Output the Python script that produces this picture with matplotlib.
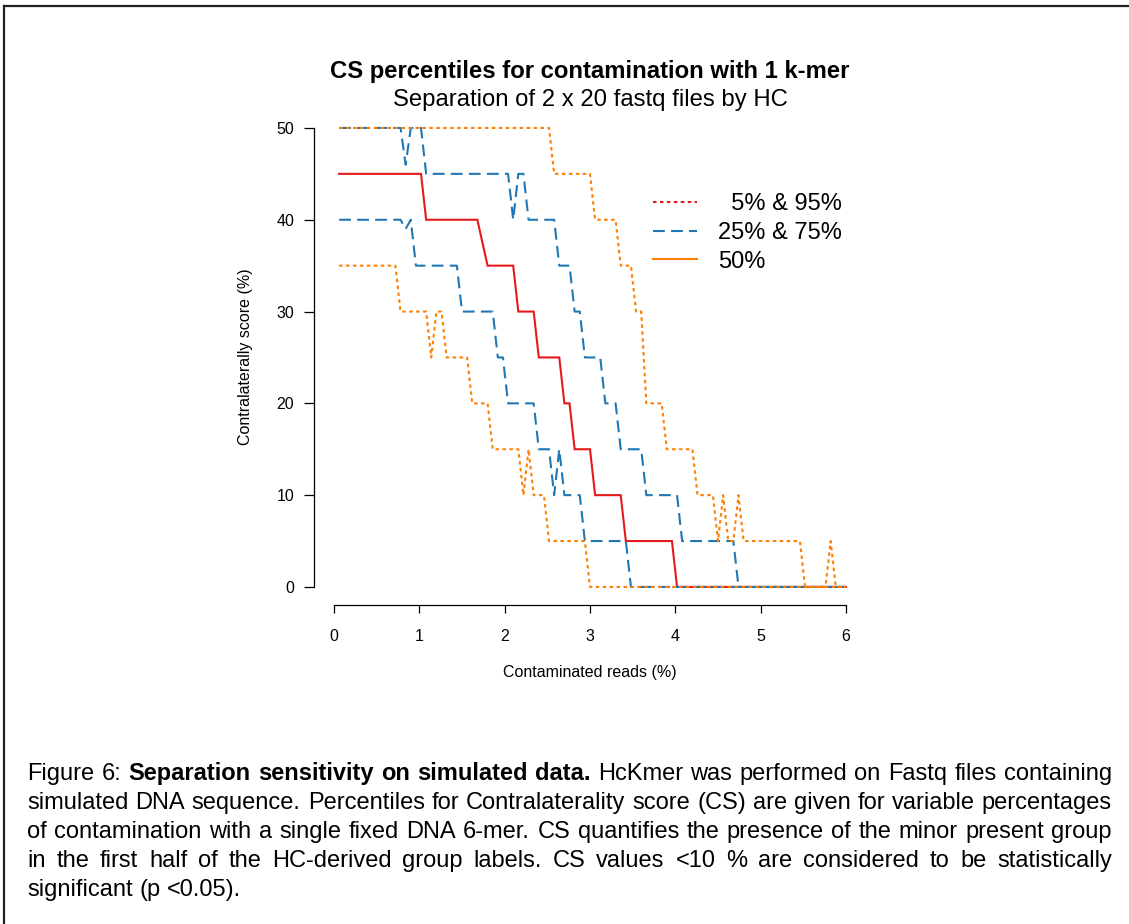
import numpy as np
import matplotlib
matplotlib.use("Agg")
import matplotlib.pyplot as plt
from matplotlib.lines import Line2D

plt.rcParams['font.family'] = ['Liberation Sans', 'DejaVu Sans']
plt.rcParams['lines.scale_dashes'] = False

# contaminated reads (%) and contralaterality score (%) at the step vertices
x50 = [0.06, 1.02, 1.08, 1.68, 1.80, 2.10, 2.16, 2.34, 2.40, 2.64, 2.70, 2.76, 2.82,
       3.00, 3.06, 3.36, 3.42, 3.96, 4.02, 6.00]
y50 = [45, 45, 40, 40, 35, 35, 30, 30, 25, 25, 20, 20, 15, 15, 10, 10, 5, 5, 0, 0]

x75 = [0.06, 0.78, 0.84, 0.90, 1.02, 1.08, 2.04, 2.10, 2.16, 2.22, 2.28, 2.58, 2.64,
       2.76, 2.82, 2.88, 2.94, 3.12, 3.18, 3.30, 3.36, 3.60, 3.66, 4.02, 4.08, 4.68,
       4.74, 6.00]
y75 = [50, 50, 46, 50, 50, 45, 45, 40, 45, 45, 40, 40, 35, 35, 30, 30, 25, 25, 20, 20,
       15, 15, 10, 10, 5, 5, 0, 0]

x25 = [0.06, 0.78, 0.84, 0.90, 0.96, 1.44, 1.50, 1.86, 1.92, 1.98, 2.04, 2.34, 2.40,
       2.52, 2.58, 2.64, 2.70, 2.88, 2.94, 3.42, 3.48, 6.00]
y25 = [40, 40, 39, 40, 35, 35, 30, 30, 25, 25, 20, 20, 15, 15, 10, 15, 10, 10, 5, 5, 0, 0]

x95 = [0.06, 2.52, 2.58, 3.00, 3.06, 3.30, 3.36, 3.48, 3.54, 3.60, 3.66, 3.84, 3.90,
       4.20, 4.26, 4.44, 4.50, 4.56, 4.62, 4.68, 4.74, 4.80, 5.46, 5.52, 5.76, 5.82,
       5.88, 6.00]
y95 = [50, 50, 45, 45, 40, 40, 35, 35, 30, 30, 20, 20, 15, 15, 10, 10, 5, 10, 5, 5,
       10, 5, 5, 0, 0, 5, 0, 0]

x05 = [0.06, 0.72, 0.78, 1.08, 1.14, 1.20, 1.26, 1.32, 1.56, 1.62, 1.80, 1.86, 2.16,
       2.22, 2.28, 2.34, 2.46, 2.52, 2.94, 3.00, 6.00]
y05 = [35, 35, 30, 30, 25, 30, 30, 25, 25, 20, 20, 15, 15, 10, 15, 10, 10, 5, 5, 0, 0]

x_ticks = [0, 1, 2, 3, 4, 5, 6]
y_ticks = [0, 10, 20, 30, 40, 50]
legend_labels = ['  5% & 95%', '25% & 75%', '50%']

caption = [
    [("Figure", False), ("6:", False), ("Separation", True), ("sensitivity", True),
     ("on", True), ("simulated", True), ("data.", True), ("HcKmer", False), ("was", False),
     ("performed", False), ("on", False), ("Fastq", False), ("files", False),
     ("containing", False)],
    "simulated DNA sequence. Percentiles for Contralaterality score (CS) are given for variable percentages",
    "of contamination with a single fixed DNA 6-mer. CS quantifies the presence of the minor present group",
    "in the first half of the HC-derived group labels.  CS values <10 % are considered to be statistically",
    "significant (p <0.05).",
]

RED = '#e41a1c'
BLUE = '#1f78b4'
ORANGE = '#ff7f00'

W, H = 1129, 924
fig = plt.figure(figsize=(W / 100, H / 100), dpi=100)
ax = fig.add_axes([313.5 / W, 1 - 605.3 / H, 553 / W, 495.7 / H])

lw = 1.5
ax.plot(x50, y50, color=RED, lw=lw, solid_joinstyle='miter')
ax.plot(x25, y25, color=BLUE, lw=lw, dashes=(8.5, 4.5))
ax.plot(x75, y75, color=BLUE, lw=lw, dashes=(8.5, 4.5))
ax.plot(x05, y05, color=ORANGE, lw=lw, dashes=(2.5, 2.5))
ax.plot(x95, y95, color=ORANGE, lw=lw, dashes=(2.5, 2.5))

ax.set_xlim(-0.24, 6.24)
ax.set_ylim(-2, 52)
ax.set_xticks(x_ticks)
ax.set_yticks(y_ticks)
for s in ['top', 'right']:
    ax.spines[s].set_visible(False)
ax.spines['left'].set_bounds(0, 50)
ax.spines['bottom'].set_bounds(0, 6)
for s in ['left', 'bottom']:
    ax.spines[s].set_linewidth(0.9)
ax.tick_params(axis='y', length=7, width=0.9, pad=7, labelsize=11.5)
ax.tick_params(axis='x', length=6, width=0.9, pad=11, labelsize=11.5)

fig.text(590 / W, 1 - 672 / H, 'Contaminated reads (%)', ha='center', va='center', fontsize=11.5)
fig.text(246 / W, 1 - 357 / H, 'Contralaterally score (%)', ha='center', va='center',
         rotation=90, fontsize=11.5)

fig.text(590 / W, 1 - 78 / H, 'CS percentiles for contamination with 1 k-mer',
         ha='center', va='baseline', fontsize=17.2, fontweight='bold')
fig.text(590 / W, 1 - 106 / H, 'Separation of 2 x 20 fastq files by HC',
         ha='center', va='baseline', fontsize=17.2)

# legend (colours as in the original figure)
handles = [Line2D([], [], color=RED, lw=lw, dashes=(2.5, 2.5)),
           Line2D([], [], color=BLUE, lw=lw, dashes=(8.5, 4.5)),
           Line2D([], [], color=ORANGE, lw=lw)]
ax.legend(handles, legend_labels, loc='upper left', bbox_to_anchor=(653 / W, 1 - 193 / H),
          bbox_transform=fig.transFigure, frameon=False, fontsize=17,
          handlelength=1.85, handletextpad=0.92, labelspacing=0.29,
          borderpad=0, borderaxespad=0)

# page frame
fig.add_artist(Line2D([3.5 / W, 1], [1 - 5.5 / H, 1 - 5.5 / H], color='#222222', lw=1.6))
fig.add_artist(Line2D([3.5 / W, 3.5 / W], [0, 1 - 5.5 / H], color='#222222', lw=1.6))

# justified caption
fig.canvas.draw()
renderer = fig.canvas.get_renderer()
left, right = 27, 1112
fs = 17
for i, line in enumerate(caption):
    if isinstance(line, str):
        words = [(w, False) for w in line.split()]
    else:
        words = line
    base = 780 + i * 29
    texts = [fig.text(0, 1 - base / H, w, fontsize=fs, va='baseline',
                      fontweight='bold' if b else 'normal') for w, b in words]
    widths = [t.get_window_extent(renderer).width for t in texts]
    if i == len(caption) - 1:
        gap = 0.278 * fs * 100 / 72
    else:
        gap = (right - left - sum(widths)) / (len(words) - 1)
    x = left
    for t, w in zip(texts, widths):
        t.set_x(x / W)
        x += w + gap

fig.savefig('out.png', dpi=100)
